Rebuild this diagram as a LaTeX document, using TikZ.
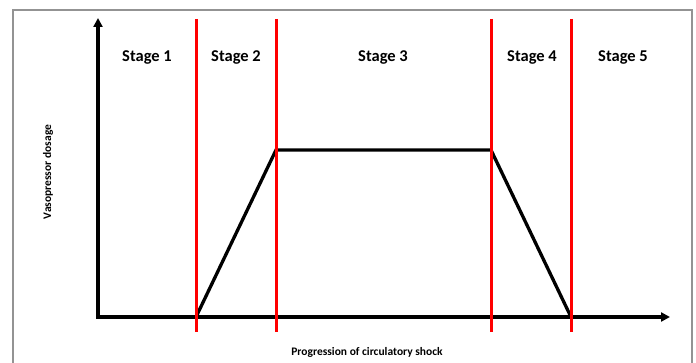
\documentclass[tikz,border=0pt]{standalone}
\usepackage{fontspec}
\setmainfont{Carlito}
\usetikzlibrary{arrows.meta}
\begin{document}
\begin{tikzpicture}[x=1pt,y=-1pt,
  axis/.style={line width=3.5pt,-{Triangle[length=9pt,width=9pt]}},
  redline/.style={line width=3pt,red},
  curve/.style={line width=3.3pt,line join=miter},
  stagelabel/.style={font=\fontsize{16.5}{18}\selectfont\bfseries,inner sep=0pt},
  axlabel/.style={font=\fontsize{11.5}{13}\selectfont\bfseries,inner sep=0pt},
  frame/.style={draw=gray!85,line width=1.2pt}]
\useasboundingbox (0,0) rectangle (696,363);
\draw[frame] (13,370) -- (13,10) -- (692,10) -- (692,370);
% coordinates
\coordinate (O) at (98,317);
\coordinate (ytop) at (98,18);
\coordinate (xend) at (670,317);
\coordinate (p1) at (196,317);
\coordinate (p2) at (276,150);
\coordinate (p3) at (491,150);
\coordinate (p4) at (571,317);
\foreach \n/\x in {r1/196,r2/276,r3/491,r4/571}{
  \coordinate (\n t) at (\x,19);
  \coordinate (\n b) at (\x,332);
}
% curve
\draw[curve] (p1) -- (p2) -- (p3) -- (p4);
% axes
\draw[axis] (O) -- (ytop);
\draw[axis] ([xshift=-1.75pt]O) -- (xend);
% red lines
\foreach \n in {r1,r2,r3,r4}{\draw[redline] (\n t) -- (\n b);}
% labels
\node[stagelabel] (s1) at (147,57) {Stage 1};
\node[stagelabel] (s2) at (236,57) {Stage 2};
\node[stagelabel] (s3) at (383,57) {Stage 3};
\node[stagelabel] (s4) at (532,57) {Stage 4};
\node[stagelabel] (s5) at (623,57) {Stage 5};
\node[axlabel] (xl) at (367,352) {Progression of circulatory shock};
\node[axlabel,rotate=90] (yl) at (48,172) {Vasopressor dosage};
\end{tikzpicture}
\end{document}
